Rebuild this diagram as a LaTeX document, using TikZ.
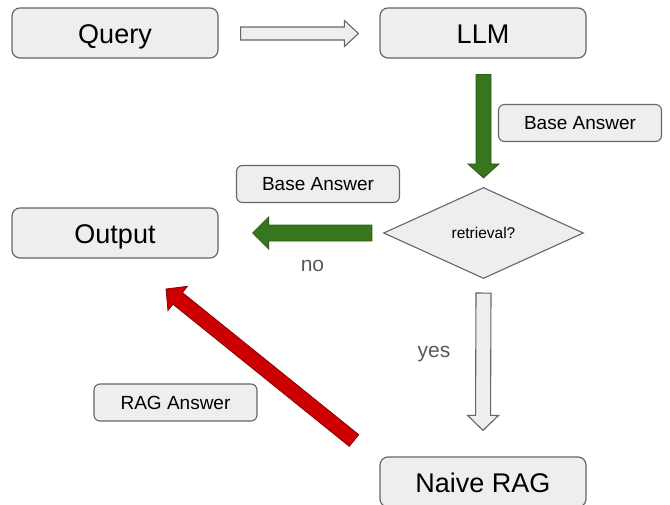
\documentclass[tikz,border=0pt]{standalone}
\usepackage{fontspec}
\setmainfont{Liberation Sans}
\usetikzlibrary{calc,shapes.geometric}
\definecolor{boxfill}{HTML}{EEEEEE}
\definecolor{boxline}{HTML}{666666}
\definecolor{darkgreen}{HTML}{38761D}
\definecolor{darkred}{HTML}{CC0000}
\definecolor{softgray}{HTML}{595959}
\newcommand{\blockarr}[6]{%
  \coordinate (bh) at ($(#3)!#6pt!(#2)$);
  \draw[#1] ($(#2)!#4pt!90:(#3)$) -- ($(bh)!#4pt!90:(#3)$) -- ($(bh)!#5pt!90:(#3)$)
    -- (#3) -- ($(bh)!#5pt!-90:(#3)$) -- ($(bh)!#4pt!-90:(#3)$) -- ($(#2)!#4pt!-90:(#3)$) -- cycle;}
\begin{document}
\begin{tikzpicture}[x=1pt,y=-1pt,
  bigbox/.style={draw=boxline, fill=boxfill, line width=1.2pt, rounded corners=8pt,
    minimum width=206pt, minimum height=50pt, inner sep=0pt, text height=21.4pt, text depth=0pt,
    font=\fontsize{27}{30}\selectfont},
  lbl/.style={draw=boxline, fill=boxfill, line width=1.1pt, rounded corners=6pt,
    minimum width=163pt, minimum height=37pt, inner sep=0pt, text height=13.7pt, text depth=0pt,
    font=\fontsize{19}{23}\selectfont},
  decision/.style={diamond, aspect=2.2, draw=boxline, fill=boxfill, line width=1.1pt,
    minimum width=200pt, minimum height=91pt, inner sep=0pt, text height=11.2pt, text depth=0pt,
    font=\fontsize{15.5}{18}\selectfont},
  cond/.style={text=softgray, font=\fontsize{21}{25}\selectfont, inner sep=0pt},
  hollowarr/.style={draw=boxline, fill=boxfill, line width=1.1pt, line join=miter},
  greenarr/.style={draw=darkgreen!80!black, fill=darkgreen, line width=0.8pt},
  redarr/.style={draw=darkred!70!black, fill=darkred, line width=0.8pt}]
\useasboundingbox (0,0) rectangle (670,504);
\fill[white] (0,0) rectangle (670,504);

\node[bigbox] (query) at (115,33) {Query};
\node[bigbox] (llm) at (483,33) {LLM};
\node[bigbox] (output) at (115,233) {Output};
\node[bigbox] (rag) at (483,482) {Naive RAG};
\node[decision] (dec) at (483.5,233) {retrieval?};

\node[lbl] (ba1) at (580,123) {Base Answer};
\node[lbl] (ba2) at (318,184) {Base Answer};
\node[lbl] (raga) at (175.5,402.5) {RAG Answer};
\node[cond] (no) at (312.5,266) {no};
\node[cond] (yes) at (434,354) {yes};

\coordinate (a1s) at ($(query.east)+(22,0.5)$);
\coordinate (a1e) at ($(llm.west)+(-21,0.5)$);
\coordinate (a2s) at ($(llm.south)+(0.5,16)$);
\coordinate (a2e) at ($(dec.north)+(0,-9)$);
\coordinate (a3s) at ($(dec.west)+(-11,0)$);
\coordinate (a3e) at ($(output.east)+(34,0)$);
\coordinate (a4s) at ($(dec.south)+(0,14)$);
\coordinate (a4e) at ($(rag.north)+(0,-26)$);
\coordinate (a5s) at (354,440.5);
\coordinate (a5e) at (166,289);

\blockarr{hollowarr}{a1s}{a1e}{6.5}{13}{14}
\blockarr{greenarr}{a2s}{a2e}{7.5}{15.5}{14}
\blockarr{greenarr}{a3s}{a3e}{8}{16}{16}
\blockarr{hollowarr}{a4s}{a4e}{7.5}{15.5}{15}
\blockarr{redarr}{a5s}{a5e}{7.5}{15.5}{15}
\end{tikzpicture}
\end{document}
